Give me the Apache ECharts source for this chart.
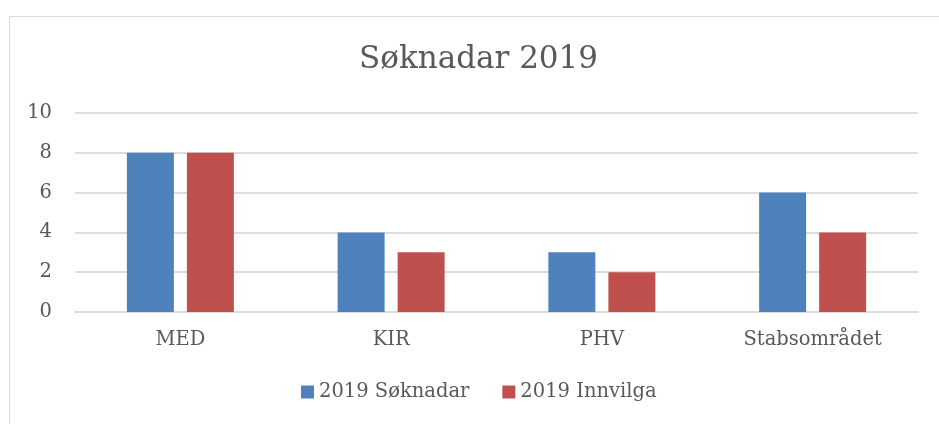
<!DOCTYPE html>
<html>
<head>
<meta charset="utf-8">
<script src="https://cdn.jsdelivr.net/npm/echarts@6/dist/echarts.min.js"></script>
<style>
  html, body { margin: 0; padding: 0; background: #fff; }
  #chart { width: 939px; height: 424px; }
</style>
</head>
<body>
<div id="chart"></div>
<script>
const categories = ['MED', 'KIR', 'PHV', 'Stabsområdet']
const soknadar = [8, 4, 3, 6]
const innvilga = [8, 3, 2, 4]
const seriesNames = ['2019 Søknadar', '2019 Innvilga']

const font = 'DejaVu Serif'
const textColor = '#595959'

const chart = echarts.init(document.getElementById('chart'))
chart.setOption({
  animation: false,
  textStyle: { fontFamily: font },
  graphic: [{
    type: 'rect',
    shape: { x: 9.5, y: 16.5, width: 960, height: 440 },
    style: { fill: 'none', stroke: '#d9d9d9', lineWidth: 1 }
  }],
  title: {
    text: 'Søknadar 2019',
    left: 354,
    top: 39,
    textStyle: { fontFamily: font, fontSize: 31, fontWeight: 'normal', color: textColor }
  },
  legend: {
    bottom: 17,
    left: 296,
    itemWidth: 13,
    itemHeight: 13,
    itemGap: 33,
    icon: 'rect',
    textStyle: { fontFamily: font, fontSize: 19.5, color: textColor },
    data: seriesNames
  },
  grid: { left: 75, right: 21, top: 113, bottom: 112 },
  xAxis: {
    type: 'category',
    data: categories,
    axisTick: { show: false },
    axisLine: { lineStyle: { color: '#dcdcdc', width: 2 } },
    axisLabel: { fontFamily: font, fontSize: 19.5, color: textColor, margin: 18 }
  },
  yAxis: {
    type: 'value',
    min: 0,
    max: 10,
    interval: 2,
    axisLine: { show: false },
    axisTick: { show: false },
    splitLine: { lineStyle: { color: '#dcdcdc', width: 2 } },
    axisLabel: { fontFamily: font, fontSize: 19.5, color: textColor, margin: 23 }
  },
  series: [
    {
      name: seriesNames[0],
      type: 'bar',
      data: soknadar,
      barWidth: 47,
      barGap: '27.7%',
      itemStyle: { color: '#4f81bd' }
    },
    {
      name: seriesNames[1],
      type: 'bar',
      data: innvilga,
      barWidth: 47,
      itemStyle: { color: '#c0504d' }
    }
  ]
})
</script>
</body>
</html>
